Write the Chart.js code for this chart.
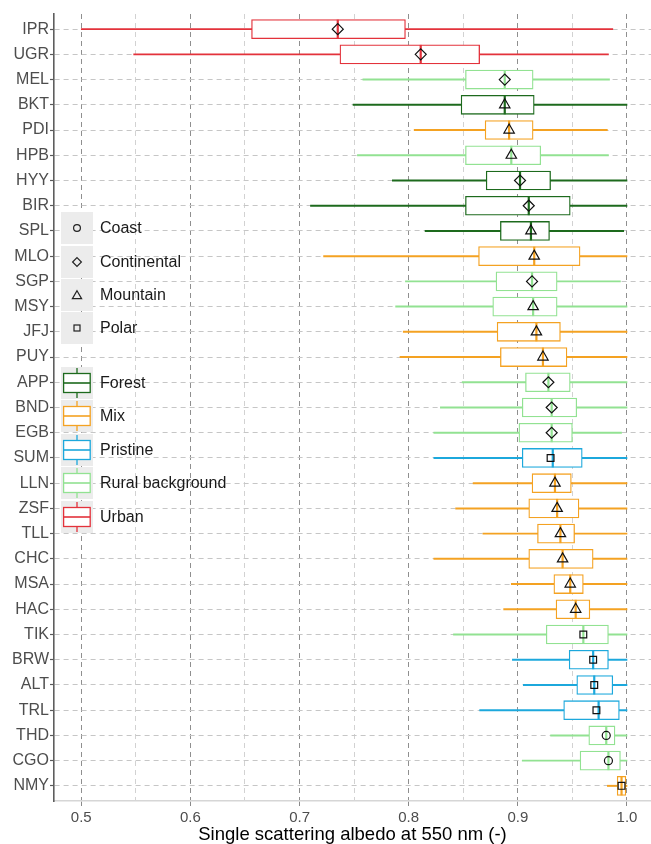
<!DOCTYPE html>
<html>
<head>
<meta charset="utf-8">
<script src="https://cdn.jsdelivr.net/npm/chart.js@4.4.1/dist/chart.umd.min.js"></script>
<style>
  html, body { margin: 0; padding: 0; background: #ffffff; }
  #wrap { position: relative; width: 651px; height: 844px; overflow: hidden; }
  #c { display: block; position: absolute; left: 0; top: 0; }
  #legend { position: absolute; left: 0; top: 0; width: 651px; height: 844px; pointer-events: none; }
  .lg { font-family: "Liberation Sans", Arial, sans-serif; font-size: 16px; color: #1a1a1a; }
  .key { position: absolute; left: 61px; width: 32px; height: 32px; background: #ececec; }
  .key svg { position: absolute; left: 0; top: 0; }
  .lab { position: absolute; left: 100px; height: 20px; line-height: 20px; white-space: nowrap; }
</style>
</head>
<body>
<div id="wrap">
  <canvas id="c" width="651" height="844"></canvas>
  <div id="legend" class="lg"></div>
</div>
<script>
// ---------------- DATA ----------------
const stations = ['IPR','UGR','MEL','BKT','PDI','HPB','HYY','BIR','SPL','MLO','SGP','MSY','JFJ','PUY','APP','BND','EGB','SUM','LLN','ZSF','TLL','CHC','MSA','HAC','TIK','BRW','ALT','TRL','THD','CGO','NMY'];

const stationType = ['Urban','Urban','Rural background','Forest','Mix','Rural background','Forest','Forest','Forest','Mix','Rural background','Rural background','Mix','Mix','Rural background','Rural background','Rural background','Pristine','Mix','Mix','Mix','Mix','Mix','Mix','Rural background','Pristine','Pristine','Pristine','Rural background','Rural background','Mix'];

const stationSite = ['Continental','Continental','Continental','Mountain','Mountain','Mountain','Continental','Continental','Mountain','Mountain','Continental','Mountain','Mountain','Mountain','Continental','Continental','Continental','Polar','Mountain','Mountain','Mountain','Mountain','Mountain','Mountain','Polar','Polar','Polar','Polar','Coast','Coast','Polar'];

const whiskerLow  = [0.500,0.548,0.758,0.749,0.805,0.753,0.785,0.710,0.815,0.722,0.797,0.788,0.795,0.792,0.849,0.829,0.823,0.823,0.859,0.843,0.868,0.823,0.894,0.887,0.841,0.895,0.905,0.865,0.930,0.904,0.982];
const boxQ1       = [0.656,0.737,0.852,0.848,0.870,0.852,0.871,0.852,0.884,0.864,0.880,0.877,0.881,0.884,0.907,0.904,0.901,0.904,0.913,0.910,0.918,0.910,0.933,0.935,0.926,0.947,0.954,0.942,0.965,0.957,0.991];
const boxMedian   = [0.735,0.811,0.888,0.888,0.892,0.894,0.902,0.910,0.912,0.915,0.913,0.914,0.917,0.923,0.928,0.931,0.931,0.932,0.934,0.936,0.939,0.941,0.948,0.953,0.960,0.969,0.970,0.974,0.981,0.983,0.995];
const boxQ3       = [0.797,0.865,0.914,0.915,0.914,0.921,0.930,0.948,0.929,0.957,0.936,0.936,0.939,0.945,0.948,0.954,0.950,0.959,0.949,0.956,0.952,0.969,0.960,0.966,0.983,0.983,0.987,0.993,0.989,0.994,0.999];
const whiskerHigh = [0.987,0.983,0.984,1.000,0.982,0.983,1.000,1.000,0.997,1.000,0.994,1.000,1.000,1.000,1.000,1.000,0.995,1.000,1.000,1.000,1.000,1.000,1.000,1.000,1.000,1.000,1.000,1.000,1.000,1.000,1.000];
const markerValue = [0.735,0.811,0.888,0.888,0.892,0.894,0.902,0.910,0.912,0.915,0.913,0.914,0.917,0.923,0.928,0.931,0.931,0.930,0.934,0.936,0.939,0.941,0.948,0.953,0.960,0.969,0.970,0.972,0.981,0.983,0.995];

const xTickValues = [0.5,0.55,0.6,0.65,0.7,0.75,0.8,0.85,0.9,0.95,1.0];
const xTickLabels = {'0.5':'0.5','0.6':'0.6','0.7':'0.7','0.8':'0.8','0.9':'0.9','1':'1.0'};
const xTitle = 'Single scattering albedo at 550 nm (-)';

const siteClasses = ['Coast','Continental','Mountain','Polar'];
const typeClasses = ['Forest','Mix','Pristine','Rural background','Urban'];

// ---------------- STYLE ----------------
const typeColor = {
  'Forest': '#1d6a1d',
  'Mix': '#f4a222',
  'Pristine': '#1ca8dc',
  'Rural background': '#92e292',
  'Urban': '#e3323b'
};
const siteStyle = { 'Coast': 'circle', 'Continental': 'rectRot', 'Mountain': 'triangle', 'Polar': 'rect' };
const siteRadius = { 'Coast': 4, 'Continental': 5.5, 'Mountain': 6, 'Polar': 4.8 };
const FONT = '"Liberation Sans", Arial, sans-serif';

const rowColors = stationType.map(t => typeColor[t]);

const whiskerData = stations.map((s, i) => ({ y: i, x: [whiskerLow[i], whiskerHigh[i]] }));
const boxData = stations.map((s, i) => ({ y: i, x: [boxQ1[i], boxQ3[i]] }));
const medianData = stations.map((s, i) => ({ y: i, x: boxMedian[i] }));
const markerData = stations.map((s, i) => ({ y: i, x: markerValue[i] }));

const isMajor = v => Math.round(v * 100) % 10 === 0;

new Chart(document.getElementById('c'), {
  type: 'bar',
  data: {
    datasets: [
      {
        type: 'bar', label: 'whiskers', data: whiskerData, order: 4,
        backgroundColor: rowColors, borderWidth: 0, barThickness: 1.3, grouped: false
      },
      {
        type: 'bar', label: 'boxes', data: boxData, order: 3,
        backgroundColor: '#ffffff', borderColor: rowColors, borderWidth: 1.3,
        borderSkipped: false, barThickness: 19, grouped: false
      },
      {
        type: 'scatter', label: 'median', data: medianData, order: 2, showLine: false,
        pointStyle: 'line', rotation: 90, pointRadius: 9.5, pointHoverRadius: 9.5,
        pointBorderColor: rowColors, pointBorderWidth: 2.2, borderColor: rowColors
      },
      {
        type: 'scatter', label: 'marker', data: markerData, order: 1, showLine: false,
        pointStyle: stationSite.map(s => siteStyle[s]),
        pointRadius: stationSite.map(s => siteRadius[s]),
        pointHoverRadius: stationSite.map(s => siteRadius[s]),
        pointBackgroundColor: 'rgba(0,0,0,0)', pointBorderColor: '#111111', pointBorderWidth: 1.2
      }
    ]
  },
  options: {
    indexAxis: 'y',
    responsive: false,
    devicePixelRatio: 1,
    animation: false,
    events: [],
    layout: { autoPadding: false, padding: { top: 14, right: 0, bottom: 0, left: 0 } },
    plugins: { legend: { display: false }, tooltip: { enabled: false } },
    scales: {
      x: {
        type: 'linear', position: 'bottom', min: 0.475, max: 1.022, offset: false,
        afterBuildTicks: sc => { sc.ticks = xTickValues.map(v => ({ value: v })); },
        afterFit: sc => { sc.height = 43; sc.paddingLeft = 0; sc.paddingRight = 0; },
        grid: {
          offset: false,
          color: c => (c.tick && isMajor(c.tick.value)) ? '#8f8f8f' : '#d2d2d2',
          lineWidth: 1,
          tickColor: c => (c.tick && isMajor(c.tick.value)) ? '#8a8a8a' : 'rgba(0,0,0,0)',
          tickLength: 5, tickWidth: 1, tickBorderDash: []
        },
        border: { display: true, color: '#d6d6d6', width: 1.5, dash: [5, 4] },
        ticks: {
          padding: 3, color: '#4d4d4d', font: { family: FONT, size: 15 },
          maxRotation: 0, autoSkip: false,
          callback: v => { const k = String(Math.round(v * 10) / 10); return isMajor(v) ? (xTickLabels[k] || '') : ''; }
        },
        title: {
          display: true, text: xTitle, color: '#000000',
          font: { family: FONT, size: 18.5, lineHeight: 1 }, padding: { top: 0, bottom: 0 }
        }
      },
      y: {
        type: 'linear', position: 'left', min: -0.6, max: 30.6, reverse: true, offset: false,
        afterBuildTicks: sc => { sc.ticks = stations.map((s, i) => ({ value: i })); },
        afterFit: sc => { sc.width = 54; sc.paddingTop = 0; sc.paddingBottom = 0; },
        grid: {
          offset: false,
          color: '#c6c6c6', lineWidth: 1,
          tickColor: '#5a5a5a', tickLength: 4, tickWidth: 1.2, tickBorderDash: []
        },
        border: { display: true, color: '#5e5e5e', width: 1.6, dash: [5, 4] },
        ticks: {
          padding: 1, color: '#4d4d4d', font: { family: FONT, size: 16 }, autoSkip: false,
          callback: v => stations[Math.round(v)] || ''
        }
      }
    }
  }
});

// ---------------- LEGEND (HTML, real text) ----------------
const lg = document.getElementById('legend');
const shapeSvg = {
  'Coast': '<circle cx="16" cy="16" r="3.4" fill="none" stroke="#222" stroke-width="1.2"/>',
  'Continental': '<polygon points="16,11.6 20.4,16 16,20.4 11.6,16" fill="none" stroke="#222" stroke-width="1.2"/>',
  'Mountain': '<polygon points="16,11.8 20.6,19.6 11.4,19.6" fill="none" stroke="#222" stroke-width="1.2"/>',
  'Polar': '<rect x="13" y="13" width="6" height="6" fill="none" stroke="#222" stroke-width="1.2"/>'
};
siteClasses.forEach((name, k) => {
  const cy = 228.3 + k * 33.35;
  const key = document.createElement('div');
  key.className = 'key';
  key.style.top = (cy - 16) + 'px';
  key.innerHTML = '<svg width="32" height="32">' + shapeSvg[name] + '</svg>';
  lg.appendChild(key);
  const lab = document.createElement('div');
  lab.className = 'lab';
  lab.style.top = (cy - 10) + 'px';
  lab.textContent = name;
  lg.appendChild(lab);
});
typeClasses.forEach((name, k) => {
  const cy = 382.7 + k * 33.45;
  const col = typeColor[name];
  const key = document.createElement('div');
  key.className = 'key';
  key.style.top = (cy - 16) + 'px';
  key.innerHTML = '<svg width="32" height="32">' +
    '<line x1="16" y1="1" x2="16" y2="6.5" stroke="' + col + '" stroke-width="1.3"/>' +
    '<line x1="16" y1="25.5" x2="16" y2="31" stroke="' + col + '" stroke-width="1.3"/>' +
    '<rect x="2.6" y="6.5" width="26.6" height="19" fill="#ffffff" stroke="' + col + '" stroke-width="1.3"/>' +
    '<line x1="2.6" y1="16" x2="29.2" y2="16" stroke="' + col + '" stroke-width="1.6"/>' +
    '</svg>';
  lg.appendChild(key);
  const lab = document.createElement('div');
  lab.className = 'lab';
  lab.style.top = (cy - 10) + 'px';
  lab.textContent = name;
  lg.appendChild(lab);
});
</script>
</body>
</html>
